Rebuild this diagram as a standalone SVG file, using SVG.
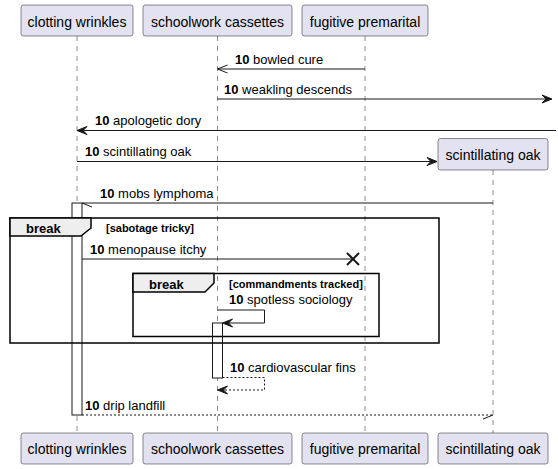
<svg xmlns="http://www.w3.org/2000/svg" width="558" height="469" viewBox="0 0 558 469">
<style>
.p{fill:#E2E2F0;stroke:#181818;stroke-width:0.5}
.pt{font-family:"Liberation Sans",Arial,sans-serif;font-size:14px;fill:#000;text-anchor:middle}
.ll{stroke:#181818;stroke-width:0.5;stroke-dasharray:5,5;fill:none}
.m{stroke:#181818;stroke-width:1;fill:none}
.d{stroke:#181818;stroke-width:1;fill:none;stroke-dasharray:2,2}
.ah{fill:#181818;stroke:#181818;stroke-width:1}
.t{font-family:"Liberation Sans",Arial,sans-serif;font-size:13px;fill:#000}
.b{font-weight:bold}
.act{fill:#FFFFFF;stroke:#181818;stroke-width:1}
.fr{fill:none;stroke:#000;stroke-width:1.5}
.tab{fill:#EEEEEE;stroke:#000;stroke-width:1.5}
.ft{font-family:"Liberation Sans",Arial,sans-serif;font-size:13px;font-weight:bold;fill:#000}
.fc{font-family:"Liberation Sans",Arial,sans-serif;font-size:11px;font-weight:bold;fill:#000}
</style>
<rect width="558" height="469" fill="#FFFFFF"/>
<g id="lifelines">
<line class="ll" x1="77" y1="36" x2="77" y2="433"/>
<line class="ll" x1="217.5" y1="36" x2="217.5" y2="433"/>
<line class="ll" x1="365" y1="36" x2="365" y2="433"/>
<line class="ll" x1="493" y1="170" x2="493" y2="433"/>
</g>
<g id="activations">
<rect class="act" x="72" y="203" width="10" height="212"/>
<rect class="act" x="212.5" y="323" width="10" height="55"/>
</g>
<g id="frame-break-1">
<rect class="fr" x="10" y="218" width="429" height="125"/>
<path class="tab" d="M10,218 L91,218 L91,228 L81,236 L10,236 Z"/>
<text class="ft" x="26" y="233">break</text>
<text class="fc" x="106" y="232">[sabotage tricky]</text>
</g>
<g id="frame-break-2">
<rect class="fr" x="133" y="273.5" width="246" height="63"/>
<path class="tab" d="M133,273.5 L214,273.5 L214,283 L205,292 L133,292 Z"/>
<text class="ft" x="149" y="289">break</text>
<text class="fc" x="229" y="288">[commandments tracked]</text>
</g>
<g id="connectors">
<line class="m" x1="365" y1="69" x2="217.5" y2="69"/>
<line class="m" x1="217.5" y1="69" x2="227.5" y2="65"/>
<line class="m" x1="217.5" y1="69" x2="227.5" y2="73"/>
<text class="t" x="235" y="63.5"><tspan class="b">10</tspan> bowled cure</text>

<line class="m" x1="217.5" y1="99" x2="550" y2="99"/>
<polygon class="ah" points="552,99 542,95 546,99 542,103"/>
<text class="t" x="224" y="93.5"><tspan class="b">10</tspan> weakling descends</text>

<line class="m" x1="556" y1="130.5" x2="79" y2="130.5"/>
<polygon class="ah" points="77,130.5 87,126.5 83,130.5 87,134.5"/>
<text class="t" x="95" y="125"><tspan class="b">10</tspan> apologetic dory</text>

<line class="m" x1="77" y1="161.5" x2="435" y2="161.5"/>
<polygon class="ah" points="437,161.5 427,157.5 431,161.5 427,165.5"/>
<text class="t" x="85" y="155.5"><tspan class="b">10</tspan> scintillating oak</text>

<line class="m" x1="493" y1="203" x2="82" y2="203"/>
<line class="m" x1="82" y1="203" x2="92" y2="207"/>
<text class="t" x="100" y="197.5"><tspan class="b">10</tspan> mobs lymphoma</text>

<line class="m" x1="82" y1="259" x2="353" y2="259"/>
<line x1="347" y1="253" x2="359" y2="265" stroke="#181818" stroke-width="2"/>
<line x1="347" y1="265" x2="359" y2="253" stroke="#181818" stroke-width="2"/>
<text class="t" x="90" y="253.5"><tspan class="b">10</tspan> menopause itchy</text>

<polyline class="m" points="217.5,310 264.5,310 264.5,323 224,323"/>
<polygon class="ah" points="222.5,323 232.5,319 228.5,323 232.5,327"/>
<text class="t" x="229" y="303.5"><tspan class="b">10</tspan> spotless sociology</text>

<polyline class="d" points="222.5,377.5 264.5,377.5 264.5,390 219,390"/>
<polygon class="ah" points="217.5,390 227.5,386 223.5,390 227.5,394"/>
<text class="t" x="230" y="371.5"><tspan class="b">10</tspan> cardiovascular fins</text>

<line class="d" x1="82" y1="415" x2="493" y2="415"/>
<line class="m" x1="493" y1="415" x2="483" y2="419"/>
<text class="t" x="85" y="410"><tspan class="b">10</tspan> drip landfill</text>
</g>
<g id="p-clotting-wrinkles">
<rect class="p" x="21" y="5" width="112" height="31" rx="2.5"/>
<text class="pt" x="77" y="26.5">clotting wrinkles</text>
<rect class="p" x="21" y="433" width="112" height="31" rx="2.5"/>
<text class="pt" x="77" y="454">clotting wrinkles</text>
</g>
<g id="p-schoolwork-cassettes">
<rect class="p" x="143" y="5" width="149" height="31" rx="2.5"/>
<text class="pt" x="217.5" y="26.5">schoolwork cassettes</text>
<rect class="p" x="143" y="433" width="149" height="31" rx="2.5"/>
<text class="pt" x="217.5" y="454">schoolwork cassettes</text>
</g>
<g id="p-fugitive-premarital">
<rect class="p" x="302" y="5" width="126" height="31" rx="2.5"/>
<text class="pt" x="365" y="26.5">fugitive premarital</text>
<rect class="p" x="302" y="433" width="126" height="31" rx="2.5"/>
<text class="pt" x="365" y="454">fugitive premarital</text>
</g>
<g id="p-scintillating-oak">
<rect class="p" x="438" y="138.5" width="110" height="31.5" rx="2.5"/>
<text class="pt" x="493" y="159.5">scintillating oak</text>
<rect class="p" x="438" y="433" width="110" height="31" rx="2.5"/>
<text class="pt" x="493" y="454">scintillating oak</text>
</g>
</svg>
